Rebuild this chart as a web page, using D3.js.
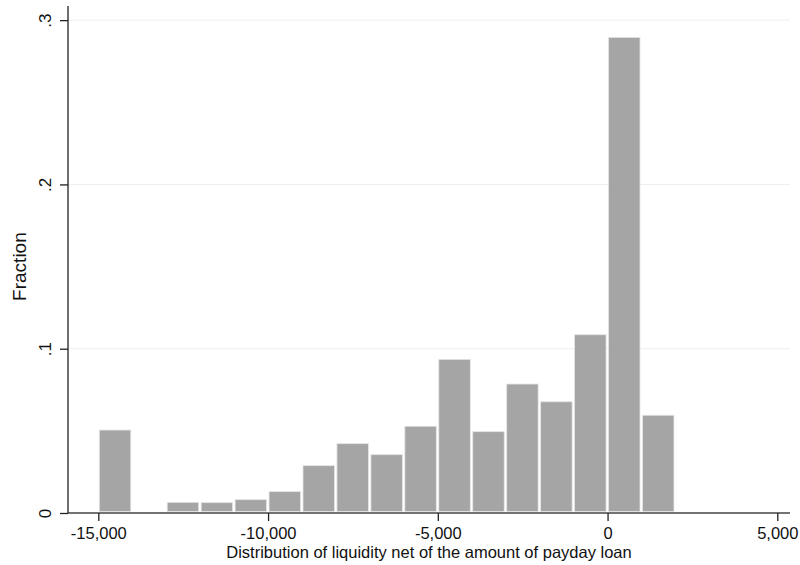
<!DOCTYPE html>
<html>
<head>
<meta charset="utf-8">
<script src="https://cdn.jsdelivr.net/npm/d3@7"></script>
<style>
  body { margin: 0; background: #fff; }
  svg { display: block; font-family: "Liberation Sans", Arial, sans-serif; }
</style>
</head>
<body>
<svg id="chart" width="800" height="565"></svg>
<script>
// histogram bins (lower edge, width 1000) and their fractions
var binStarts = [-15000, -13000, -12000, -11000, -10000, -9000, -8000, -7000,
                 -6000, -5000, -4000, -3000, -2000, -1000, 0, 1000];
var fractions = [0.0505, 0.0065, 0.0063, 0.0081, 0.0130, 0.0288, 0.0422, 0.0355,
                 0.0528, 0.0935, 0.0495, 0.0785, 0.0677, 0.1085, 0.2895, 0.0595];
var binWidth = 1000;
var xTicks = [-15000, -10000, -5000, 0, 5000];
var yTicks = [0, 0.1, 0.2, 0.3];
var xTitle = "Distribution of liquidity net of the amount of payday loan";
var yTitle = "Fraction";

var svg = d3.select("#chart"),
    margin = {top: 6, right: 10, bottom: 52, left: 68},
    width = +svg.attr("width") - margin.left - margin.right,
    height = +svg.attr("height") - margin.top - margin.bottom,
    g = svg.append("g").attr("transform", "translate(" + margin.left + "," + margin.top + ")");

var x = d3.scaleLinear().domain([-15893, 5374]).range([0, width]);
var y = d3.scaleLinear().domain([0, 0.3086]).range([height, 0]);

var bins = binStarts.map(function(d, i) { return {lo: d, hi: d + binWidth, v: fractions[i]}; });

// grid lines
g.append("g")
  .selectAll("line")
  .data(yTicks.filter(function(d) { return d > 0; }))
  .enter().append("line")
    .attr("x1", 0).attr("x2", width)
    .attr("y1", function(d) { return y(d); })
    .attr("y2", function(d) { return y(d); })
    .attr("stroke", "#eaf0f0")
    .attr("stroke-width", 1);

// bars
g.append("g")
  .selectAll("rect")
  .data(bins)
  .enter().append("rect")
    .attr("x", function(d) { return x(d.lo) + 1; })
    .attr("width", function(d) { return x(d.hi) - x(d.lo) - 2.5; })
    .attr("y", function(d) { return y(d.v); })
    .attr("height", function(d) { return y(0) - y(d.v) - 1.5; })
    .attr("fill", "#a5a5a5")
    .attr("stroke", "#e4e4e4")
    .attr("stroke-width", 0.8);

// x axis
var xAxis = g.append("g")
    .attr("transform", "translate(0," + height + ")")
    .call(d3.axisBottom(x).tickValues(xTicks).tickSize(8).tickPadding(6)
      .tickFormat(d3.format(",")));
xAxis.select(".domain").attr("d", "M0,0H" + width).attr("stroke", "#444").attr("stroke-width", 1.6);
xAxis.selectAll(".tick line").attr("stroke", "#222").attr("stroke-width", 1.3);
xAxis.selectAll(".tick text")
    .attr("fill", "#111")
    .style("font-size", "16.5px")
    .text(function(d) { return d3.format(",")(d).replace("−", "-"); });

// y axis
var yAxis = g.append("g")
    .call(d3.axisLeft(y).tickValues(yTicks).tickSize(8)
      .tickFormat(function(d) { return d === 0 ? "0" : d3.format(".1f")(d).replace(/^0/, ""); }));
yAxis.select(".domain").attr("d", "M0," + height + "V0").attr("stroke", "#222").attr("stroke-width", 1.3);
yAxis.selectAll(".tick line").attr("stroke", "#222").attr("stroke-width", 1.3);
yAxis.selectAll(".tick text")
    .attr("fill", "#111")
    .style("font-size", "17px")
    .attr("text-anchor", "middle")
    .attr("dy", null)
    .attr("x", null)
    .attr("transform", "translate(-17,0) rotate(-90)");

// titles
g.append("text")
    .attr("x", width / 2)
    .attr("y", height + 45)
    .attr("text-anchor", "middle")
    .attr("fill", "#111")
    .style("font-size", "16.5px")
    .text(xTitle);

svg.append("text")
    .attr("transform", "translate(26," + (margin.top + y(0.15)) + ") rotate(-90)")
    .attr("text-anchor", "middle")
    .attr("fill", "#111")
    .style("font-size", "19px")
    .text(yTitle);
</script>
</body>
</html>
